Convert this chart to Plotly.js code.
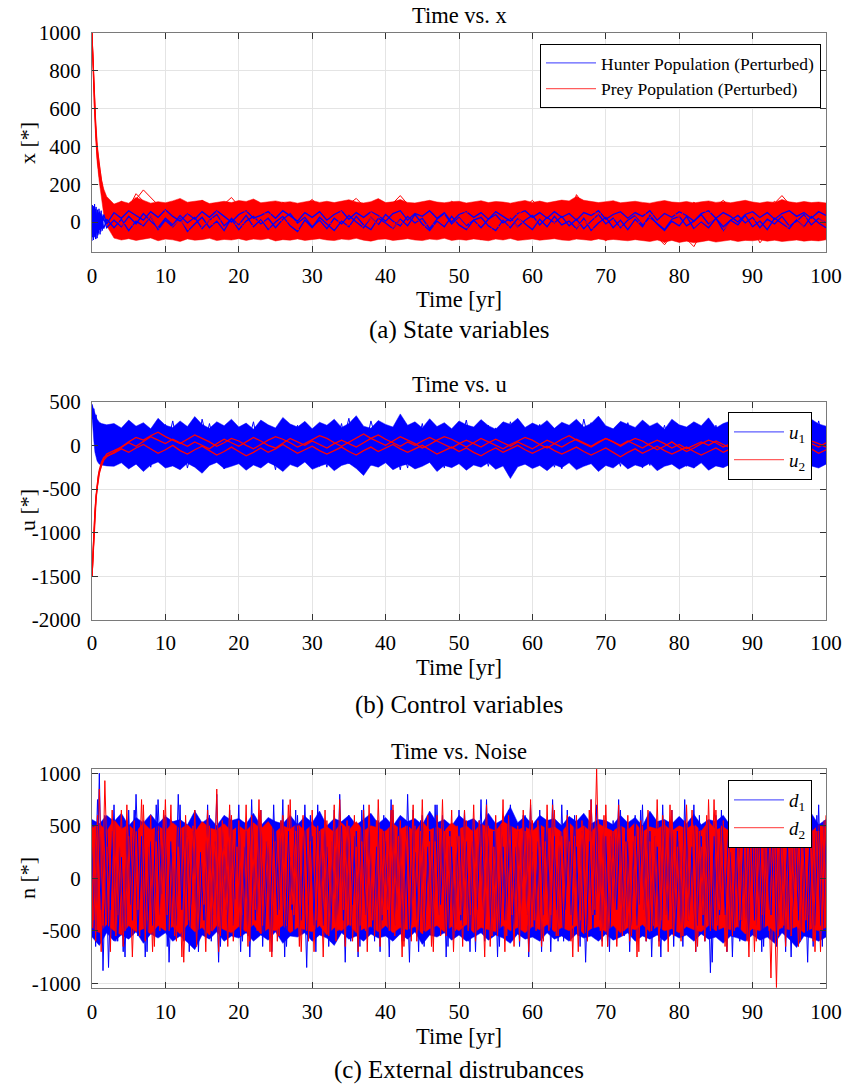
<!DOCTYPE html>
<html><head><meta charset="utf-8">
<script src="https://cdn.plot.ly/plotly-3.0.1.min.js"></script>
<style>html,body{margin:0;padding:0;background:#fff}#chart{width:850px;height:1086px}</style>
</head><body><div id="chart"></div>
<script>
// ---------- time grids ----------
function grid(a, b, s){ var o=[]; for(var i=0;a+i*s<=b+1e-9;i++) o.push(+(a+i*s).toFixed(3)); return o; }
const t1Early = [0,0.15,0.3,0.5,0.7,1,1.3,1.6,2];
const t1 = t1Early.concat(grid(3,100,1));
const tBlob = grid(0,1.5,0.05);
const t2Early = [0,0.1,0.25,0.4,0.55,0.7,0.85,1,1.3,1.6,2];
const t2 = t2Early.concat(grid(3,100,1));
const t3 = grid(0,100,1);
const t3b = grid(0,100,0.5);
const t3r = grid(0.25,99.75,0.5);

// ---------- panel (a): state variables ----------
const preyBandHi = [1000,830,680,540,420,300,225,175,135,
 95,110,100,130,115,100,108,102,112,125, 105,108,115,98,106,110,103,114,109,122,
 102,107,112,104,108,100,106,114,104,110, 103,110,118,106,101,108,124,103,107,119,
 104,101,109,115,106,102,108,110,101,107, 113,103,109,106,100,108,114,104,111,102,
 107,116,112,135,115,109,103,108,113,102, 107,110,104,100,108,114,106,103,109,101,
 107,112,104,108,102,110,115,106,101,108, 104,119,107,102,109,103,106,101];
const preyBandLo = [1000,790,620,450,320,210,120,40,-20,
 -85,-95,-88,-97,-92,-84,-99,-90,-94,-103, -89,-96,-93,-86,-98,-92,-95,-88,-97,-90,
 -94,-87,-100,-93,-96,-89,-97,-92,-88,-95, -98,-90,-94,-86,-96,-101,-92,-89,-97,-93,
 -88,-95,-98,-90,-94,-86,-97,-92,-96,-89, -93,-99,-90,-95,-87,-97,-94,-89,-96,-92,
 -88,-95,-98,-90,-93,-97,-89,-96,-92,-94, -99,-93,-96,-103,-95,-106,-97,-108,-101,-110,
 -104,-97,-106,-100,-95,-103,-97,-99,-94,-101, -96,-103,-98,-95,-101,-97,-100,-94];
const preyA = [1000,800,640,470,340,240,170,120,90,
 60,40,75,150,110,70,30,55,80,45, 20,60,95,40,-10,30,65,20,-20,10, 50,85,40,0,-30,15,55,90,45,10,
 -25,20,60,100,55,15,-20,-50,-10,35, 70,30,-15,-45,-5,40,80,50,10,-30, 5,45,85,50,15,-25,-60,-20,25,60,
 95,55,20,145,90,40,0,-35,10,50, 80,35,-5,-40,-80,-120,-70,-30,-90,-130, -60,-15,30,70,35,-10,-45,-5,40,75,
 110,60,20,-20,15,50,25,-10];
const preyB = [1000,840,690,530,400,300,220,150,100,
 30,-20,10,-40,-10,30,-30,-60,-20,15, -35,-70,-25,10,-40,-75,-30,5,-45,-15, 20,-25,-60,-20,15,-35,-70,-40,0,-50,
 -85,-45,-10,-55,-20,25,-15,-60,-30,10, -40,-75,-35,5,-30,-65,-20,20,-25,-60, -95,-50,-10,-45,-15,25,-20,-55,-90,-40,
 0,-35,-70,-30,10,-25,-60,-100,-50,-15, -55,-20,15,-30,-65,-110,-60,-25,-75,-40, -5,-45,-80,-40,0,-35,-70,-30,-110,-60,
 -20,-55,-15,20,-25,-60,-30,-70];
const preyC = [1000,820,660,500,370,260,180,125,95,
 70,110,80,120,170,130,90,60,100,75, 40,80,115,90,55,95,130,85,50,90, 65,30,70,105,80,45,85,120,75,40,
 80,55,95,125,85,50,20,60,100,140, 95,60,100,70,35,75,110,80,45,90, 60,25,65,100,70,35,80,115,75,40,
 85,50,90,60,100,70,35,75,110,80, 45,90,60,20,65,95,55,25,70,105, 75,40,85,115,80,45,90,65,30,70,
 100,140,95,60,85,50,90,65];
const hunterA = [-20,60,-80,40,-50,30,-10,20,-30,
 10,-25,30,-10,45,5,-30,20,-15,35, -5,25,-35,10,40,-20,15,-40,5,30, -10,20,-30,15,45,-5,25,-25,10,-35,
 20,-10,35,0,-30,25,-15,40,5,-20, 30,-5,20,-35,15,45,-10,25,-20,10, -30,15,40,-5,20,-25,10,35,-15,25,
 -5,30,-20,15,-35,5,40,-10,20,-30, 10,35,-15,25,-5,-40,15,30,-20,5, 40,-10,20,-25,10,35,-5,25,-30,15,
 -10,30,-20,5,40,-15,20,-5];
const hunterB = [40,-60,70,-90,50,-40,25,-35,15,
 -30,15,-45,5,-20,30,-40,10,-25,20, -50,-10,25,-30,5,-45,20,-15,35,-25, 15,-40,0,30,-20,-50,10,-30,25,-10,
 -45,5,-25,30,-15,-40,20,-5,-35,15, -20,40,-10,-45,5,-25,30,-15,-40,10, 25,-20,-45,10,-30,20,-10,-40,15,-25,
 30,-15,5,-35,20,-45,-5,25,-30,10, -40,15,-25,35,-10,-45,5,-20,30,-35, 0,-30,20,-45,10,-15,35,-25,5,-40,
 20,-10,-35,15,-25,30,-5,-30];
const hunterC = [-50,80,-20,70,-60,50,-30,40,-10,
 50,20,60,35,10,55,25,65,30,5, 45,15,55,25,60,30,0,40,60,20, 35,55,20,60,30,5,50,25,55,10,
 40,60,15,50,25,55,35,5,45,60, 10,45,30,60,20,50,0,40,55,25, 50,15,55,30,5,45,60,25,50,20,
 55,25,45,10,50,35,60,15,40,55, 20,50,30,60,10,45,25,55,35,5, 45,60,20,50,30,0,40,55,25,50,
 15,45,60,30,50,20,55,35];
const hunterBlob = [-100,90,-80,70,-95,85,-60,95,-75,60,-90,80,-50,75,-85,65,-70,50,-60,70,-40,55,-65,45,-50,60,-35,40,-45,30,-20];

// ---------- panel (b): control variables ----------
const u1BandHi = [470,440,400,360,330,300,280,265,250,240,235,
 250,200,290,220,260,190,310,230,205,280, 215,330,240,195,270,225,300,210,255,185, 290,235,200,320,245,210,275,190,265,230,
 300,205,250,340,220,195,285,240,210,360, 230,270,200,305,215,260,190,280,235,210, 295,225,185,270,240,310,205,255,220,285,
 195,265,230,300,210,250,335,225,190,275, 240,205,290,220,260,185,300,235,210,270, 225,315,200,250,280,195,265,230,305,215,
 255,190,285,235,210,300,245,220];
const u1BandLo = [350,200,50,-80,-140,-180,-200,-215,-225,-230,-235,
 -240,-200,-270,-215,-300,-225,-190,-260,-235,-280, -205,-250,-320,-230,-195,-265,-240,-210,-285,-225,
 -260,-195,-235,-300,-220,-250,-190,-275,-240,-210, -290,-230,-205,-265,-345,-225,-250,-200,-280,-235,
 -215,-270,-240,-195,-300,-230,-255,-210,-285,-225, -250,-200,-275,-235,-380,-245,-215,-265,-230,-290,
 -220,-255,-200,-280,-240,-210,-300,-230,-260,-195, -270,-225,-250,-205,-290,-240,-215,-275,-230,-260,
 -200,-285,-235,-255,-215,-300,-240,-210,-265,-230, -280,-220,-250,-205,-270,-235,-260,-215];
const u1A = [470,300,420,150,350,50,250,-50,200,-100,150,
 150,-120,250,-200,100,-250,200,-80,280,-150, 120,-220,300,-50,180,-270,90,-180,230,-100, 260,-140,60,-290,170,-60,240,-200,110,-250,
 190,-30,310,-170,80,-230,270,-120,140,-280, 210,-90,250,-190,60,-260,180,-40,290,-150, 100,-240,200,-110,270,-30,130,-210,240,-80,
 170,-270,90,-150,300,-60,220,-190,40,-240, 260,-100,150,-230,80,-170,280,-50,190,-260, 120,-200,230,-70,300,-160,60,-250,170,-110,
 250,-180,90,-260,210,-40,280,-130];
const u1B = [450,380,200,300,0,200,-150,100,-200,50,-180,
 -200,180,-60,220,-250,130,-170,240,-30,190, -260,80,-140,250,-90,200,-230,150,-50,270, -180,110,-280,200,-40,230,-160,90,-240,180,
 -70,250,-210,130,-120,280,-20,170,-190,60, -260,220,-100,140,-230,60,-170,260,-80,190, -40,230,-190,100,-270,160,-60,220,-140,110,
 -250,40,-170,210,-90,260,-200,130,-30,240, -160,80,-260,190,-50,230,-120,170,-240,60, -190,260,-100,140,-30,210,-270,90,-150,230,
 -60,180,-220,120,-90,250,-170,70];
const u2A = [-1500,-1300,-1000,-780,-600,-470,-370,-300,-210,-150,-100,
 -60,-20,40,90,60,110,150,100,60,20, 70,120,80,40,-10,30,80,50,0,-40, 10,60,100,70,30,-20,20,70,110,80,
 30,-10,40,90,130,80,40,0,50,100, 60,20,-30,10,60,100,70,20,-20,30, 80,40,0,-40,10,50,90,60,10,-30,
 20,70,110,60,20,-20,30,80,40,-10, 40,80,50,0,-50,-10,40,-20,-70,-30, 20,60,30,-20,20,70,40,-10,30,80,
 50,0,40,90,60,20,-20,30];
const u2B = [-1500,-1280,-980,-760,-580,-450,-350,-280,-190,-140,-120,
 -90,-40,-80,-30,10,-40,-90,-50,0,-60, -100,-50,-10,-60,-110,-70,-20,-70,-120,-80, -30,-80,-40,10,-40,-90,-50,-10,-60,-100,
 -60,-20,-70,-110,-60,-20,-70,-30,10,-40, -80,-40,0,-50,-100,-60,-20,-70,-30,-80, -120,-70,-30,-80,-40,0,-50,-90,-50,-10,
 -60,-100,-60,-20,-70,-110,-70,-30,-80,-130, -80,-40,-90,-50,-10,-60,-100,-60,-20,-70, -110,-70,-30,-80,-40,-90,-50,-10,-60,-100,
 -60,-20,-70,-30,-80,-40,-90,-50];
const u2C = [-1500,-1320,-1030,-800,-620,-490,-390,-320,-230,-170,-130,
 -80,-20,30,-10,50,100,60,20,70,30, -10,40,0,-40,20,70,30,-10,40,90, 50,0,-30,30,80,40,0,50,10,-30,
 20,60,20,-20,30,80,120,70,30,-10, 40,0,50,90,50,10,-30,20,60,20, -20,30,70,30,-10,40,0,-40,10,60,
 20,-20,30,70,30,-10,40,80,40,0, 50,10,-30,20,60,20,-30,10,-40,0, 40,0,50,10,-30,20,-20,30,70,30,
 -10,40,0,-40,10,50,20,-20];

// ---------- panel (c): external disturbances ----------
const d1BandHi = [560,520,600,540,620,500,580,530,610,520, 590,540,560,510,640,530,580,500,600,550,
 570,520,620,500,580,540,520,600,510,590, 530,640,500,570,540,600,510,560,620,520,
 580,500,600,540,570,510,640,530,560,500, 600,540,570,500,620,520,560,680,530,590,
 510,600,550,570,500,590,540,620,520,560, 550,510,600,530,580,500,640,540,560,520,
 590,520,610,510,560,540,600,500,570,530, 660,520,580,550,600,510,570,530,620,510, 560];
const d1BandLo = [-560,-640,-520,-600,-540,-580,-510,-620,-530,-570, -520,-600,-550,-610,-680,-540,-580,-510,-600,-550,
 -570,-520,-600,-540,-590,-510,-620,-550,-560,-520, -600,-540,-570,-640,-520,-580,-550,-600,-530,-570,
 -550,-600,-530,-580,-510,-630,-540,-560,-520,-590, -540,-600,-560,-520,-590,-540,-570,-620,-530,-580,
 -560,-600,-520,-580,-550,-600,-530,-570,-550,-600, -530,-590,-560,-520,-600,-550,-580,-540,-600,-530,
 -570,-540,-600,-530,-580,-560,-620,-550,-570,-600, -540,-590,-560,-620,-520,-580,-660,-550,-570,-600, -560];
const d2BandHi = [480,520,450,560,470,510,440,530,460,500, 450,530,470,510,440,540,480,460,520,450,
 500,450,530,470,540,440,500,470,520,450, 510,460,490,440,530,460,540,450,500,480,
 450,520,470,500,440,540,460,490,450,530, 470,500,440,520,480,450,540,500,460,490,
 450,510,470,490,440,530,460,500,440,520, 480,450,500,460,530,440,490,470,510,450,
 500,470,520,450,540,460,490,440,510,470, 490,540,460,500,450,520,470,500,440,510, 480];
const d2BandLo = [-470,-520,-440,-500,-540,-450,-510,-480,-530,-450, -500,-460,-530,-440,-510,-470,-540,-450,-490,-520,
 -460,-510,-440,-530,-480,-500,-450,-520,-470,-490, -510,-450,-540,-470,-500,-440,-520,-480,-460,-510,
 -450,-520,-470,-490,-460,-530,-480,-450,-510,-460, -500,-440,-520,-470,-490,-510,-450,-500,-470,-520,
 -460,-490,-440,-510,-470,-500,-450,-530,-480,-460, -510,-450,-520,-470,-490,-440,-510,-460,-500,-480,
 -520,-460,-490,-510,-450,-500,-470,-490,-460,-530, -480,-500,-450,-510,-470,-490,-460,-520,-480,-500, -470];
const d1Line = [300,-650,1000,-880,500,-300,700,-600,200,-750, 650,-400,800,-200,550,-700,350,-500,750,-150,
 600,-800,250,-450,700,-600,400,-250,650,-700, 150,-550,600,-350,800,-650,300,-500,550,-200,
 700,-600,450,-750,250,-400,650,-550,350,-700, 500,-300,750,-650,200,-500,600,-400,700,-250,
 400,-700,550,-450,300,-600,650,-350,500,-800, 600,-250,450,-650,700,-500,250,-600,550,-400,
 350,-750,650,-300,500,-600,800,-450,250,-700, 600,-350,450,-550,700,-250,550,-650,300,-500,
 650,-450,350,-700,550,-300,750,-600,400,-550, 500,-650,300,-400,700,-550,450,-250,600,-750,
 250,-500,650,-350,550,-700,400,-600,700,-300, 550,-450,300,-650,600,-500,750,-350,450,-600,
 400,-700,550,-300,650,-550,350,-450,600,-250, 700,-600,450,-500,300,-750,550,-400,650,-550,
 350,-650,500,-300,700,-450,400,-600,550,-800, 600,-350,450,-700,250,-550,650,-400,500,-600,
 750,-450,300,-650,550,-350,700,-500,400,-700, 600,-300,500,-600,350,-800,550,-450,700,-650, 450];
const d1LineB = [-500,750,-300,600,-850,450,-600,300,-700,550, -250,650,-550,400,-750,300,-450,700,-350,600,
 -650,350,-500,800,-300,550,-700,450,-550,250, -400,700,-600,350,-800,500,-300,650,-450,550,
 -700,300,-550,750,-400,600,-650,350,-500,700, -350,550,-750,450,-300,650,-500,400,-850,600,
 -450,700,-300,550,-650,350,-550,800,-400,500, -600,400,-750,650,-350,550,-500,300,-700,600,
 -300,750,-450,500,-600,350,-800,650,-400,550, -650,300,-500,700,-350,600,-750,450,-550,400,
 -400,650,-600,350,-700,550,-300,750,-500,450, -750,500,-400,650,-550,300,-650,600,-350,700,
 -500,350,-700,550,-450,750,-300,400,-600,650, -350,600,-550,450,-800,350,-500,700,-400,550,
 -650,400,-300,750,-550,500,-700,350,-450,650, -300,550,-750,400,-600,700,-350,500,-650,450,
 -550,750,-400,300,-700,600,-450,550,-900,400, -500,650,-350,500,-750,450,-600,350,-550,700,
 -400,550,-700,800,-300,600,-650,450,-500,350, -750,500,-400,650,-550,300,-650,600,-450,550];
const d2Line = [-400,600,-700,930,-300,650,-550,400,-650,700, -450,550,-300,750,-600,450,-700,350,-500,650,
 -350,700,-550,300,-750,600,-400,500,-650,450, -250,650,-500,400,-700,550,-350,700,-600,300,
 -550,450,-650,600,-300,750,-450,500,-700,350, -600,550,-400,700,-250,450,-650,600,-500,350,
 -700,500,-350,650,-550,400,-600,750,-300,550, -450,600,-700,350,-500,700,-400,550,-650,450,
 -300,650,-550,400,-750,500,-350,700,-600,450, -500,600,-650,350,-450,750,-550,400,-700,500,
 -350,650,-500,450,-600,550,-400,700,-650,300, -550,500,-700,600,-350,450,-600,650,-450,750,
 -400,550,-650,350,-500,700,-550,450,-300,600, -600,400,-700,550,-450,650,-350,1040,-500,600,
 -650,450,-400,700,-550,350,-600,500,-750,550, -350,650,-500,400,-650,600,-450,700,-550,300,
 -600,550,-400,650,-700,450,-350,600,-500,750, -450,500,-650,350,-550,700,-400,600,-600,450,
 -700,550,-350,650,-500,400,-1040,600,-450,700, -550,350,-650,500,-400,750,-600,450,-700,550];
const d2LineB = [500,-600,850,-450,300,-700,550,-350,650,-500, 400,-750,300,-550,700,-400,600,-650,450,-300,
 750,-500,350,-600,550,-800,400,-450,650,-350, 300,-700,500,-400,850,-550,350,-650,600,-450,
 550,-350,700,-600,400,-500,650,-300,450,-750, 350,-550,600,-450,750,-350,500,-700,300,-600,
 650,-400,450,-750,550,-300,700,-500,350,-650, 500,-600,300,-450,650,-700,400,-550,750,-350,
 450,-500,700,-350,550,-650,300,-600,500,-400, 750,-450,350,-700,600,-550,450,-300,650,-500,
 400,-650,550,-350,700,-450,300,-750,500,-550, 600,-400,750,-550,350,-650,500,-300,450,-700,
 550,-500,300,-600,700,-350,650,-550,400,-450, 350,-750,600,-400,500,-600,750,-300,550,-650,
 700,-350,450,-650,300,-500,600,-550,400,-700, 500,-600,350,-450,750,-400,550,-700,650,-300,
 400,-550,700,-350,500,-650,300,-600,750,-450, 650,-300,550,-700,400,-500,600,-400,350,-750,
 550,-600,750,-350,450,-950,500,-550,300,-650, 700,-450,400,-600,650,-350,550,-700,450,-500, 600];

// ---------- tick labels & legend names ----------
const xTicks = [0,10,20,30,40,50,60,70,80,90,100];
const y1Ticks = [0,200,400,600,800,1000];
const y2Ticks = [-2000,-1500,-1000,-500,0,500];
const y2Text = ['-2000','-1500','-1000','-500','0','500'];
const y3Ticks = [-1000,-500,0,500,1000];
const y3Text = ['-1000','-500','0','500','1000'];
const names1 = ['Hunter Population (Perturbed)','Prey Population (Perturbed)'];
const names2 = ['<i>u</i><sub>1</sub>','<i>u</i><sub>2</sub>'];
const names3 = ['<i>d</i><sub>1</sub>','<i>d</i><sub>2</sub>'];

const BLUE = '#0000ff', RED = '#ff0000';
const LBLUE = 'rgba(40,40,255,0.75)', LRED = 'rgba(255,40,40,0.75)';
const FONT = 'Liberation Serif, Times New Roman, serif';

function band(x, lo, hi, color, xa, ya){
  return [
    {type:'scatter', mode:'lines', x:x, y:lo, xaxis:xa, yaxis:ya, line:{width:0.5,color:color}, showlegend:false, hoverinfo:'skip'},
    {type:'scatter', mode:'lines', x:x, y:hi, xaxis:xa, yaxis:ya, line:{width:0.5,color:color}, fill:'tonexty', fillcolor:color, showlegend:false, hoverinfo:'skip'}
  ];
}
function line(x, y, color, xa, ya, w){
  return {type:'scatter', mode:'lines', x:x, y:y, xaxis:xa, yaxis:ya, line:{width:w||1,color:color}, showlegend:false, hoverinfo:'skip'};
}
function key(name, color, xa, ya, lg, rank){
  return {type:'scatter', mode:'lines', x:[null], y:[null], xaxis:xa, yaxis:ya, line:{width:1.2,color:color},
    name:name, showlegend:true, legend:lg, legendrank:rank, hoverinfo:'skip'};
}

const data = [].concat(
  [key(names1[0], LBLUE, 'x','y','legend',1), key(names1[1], LRED, 'x','y','legend',2),
   key(names2[0], LBLUE, 'x2','y2','legend2',1), key(names2[1], LRED, 'x2','y2','legend2',2),
   key(names3[0], LBLUE, 'x3','y3','legend3',1), key(names3[1], LRED, 'x3','y3','legend3',2)],
  band(t1, preyBandLo, preyBandHi, RED, 'x', 'y'),
  [line(tBlob, hunterBlob, BLUE, 'x', 'y'),
   line(t1, hunterA, BLUE, 'x', 'y', 1.3),
   line(t1, preyA, RED, 'x', 'y'),
   line(t1, hunterB, BLUE, 'x', 'y', 1.3),
   line(t1, preyB, RED, 'x', 'y'),
   line(t1, hunterC, BLUE, 'x', 'y', 1.3),
   line(t1, preyC, RED, 'x', 'y')],
  band(t2, u1BandLo, u1BandHi, BLUE, 'x2', 'y2'),
  [line(t2, u1A, BLUE, 'x2', 'y2'),
   line(t2, u1B, BLUE, 'x2', 'y2'),
   line(t2, u2A, RED, 'x2', 'y2', 1.3),
   line(t2, u2B, RED, 'x2', 'y2', 1.3),
   line(t2, u2C, RED, 'x2', 'y2', 1.3)],
  band(t3, d1BandLo, d1BandHi, BLUE, 'x3', 'y3'),
  band(t3, d2BandLo, d2BandHi, RED, 'x3', 'y3'),
  [line(t3b, d1Line, BLUE, 'x3', 'y3'),
   line(t3b, d2LineB, RED, 'x3', 'y3'),
   line(t3r, d1LineB, BLUE, 'x3', 'y3'),
   line(t3r, d2Line, RED, 'x3', 'y3')]
);

const H = 1086, L = 92, W = 734;
function py(p){ return 1 - p/H; }
function px(p){ return (p - L)/W; }

function xax(anchor){
  return {domain:[0,1], anchor:anchor, range:[0,100], tickvals:xTicks, ticks:'inside', ticklen:6, tickcolor:'#333',
    showline:true, linecolor:'#7a7a7a', linewidth:1, mirror:'ticks', showgrid:true, gridcolor:'#e4e4e4', zeroline:false,
    tickfont:{family:FONT, size:21, color:'#000'}, ticklabelstandoff:4};
}
function yax(anchor, dom, range, tv, tt){
  return {domain:dom, anchor:anchor, range:range, tickvals:tv, ticktext:tt, ticks:'inside', ticklen:6, tickcolor:'#333',
    showline:true, linecolor:'#7a7a7a', linewidth:1, mirror:'ticks', showgrid:true, gridcolor:'#e4e4e4', zeroline:false,
    tickfont:{family:FONT, size:21, color:'#000'}, ticklabelstandoff:6};
}
function ann(text, xp, ypx, size, angle){
  return {text:text, xref:'paper', yref:'paper', x:xp, y:py(ypx), xanchor:'center', yanchor:'middle', showarrow:false,
    textangle:angle||0, font:{family:FONT, size:size, color:'#000'}};
}
function leg(right, top, size, iw){
  return {x:px(right), y:py(top), xanchor:'right', yanchor:'top', bgcolor:'#fff', bordercolor:'#000', borderwidth:1,
    font:{family:FONT, size:size, color:'#000'}, tracegroupgap:0, traceorder:'normal', itemwidth:iw};
}
const cx = px(459);

const layout = {
  width:850, height:1086, paper_bgcolor:'#fff', plot_bgcolor:'#fff',
  margin:{l:L, r:24, t:0, b:0},
  xaxis: xax('y'), yaxis: yax('x', [py(252.3), py(33)], [-160,1000], y1Ticks, y1Ticks.map(String)),
  xaxis2: xax('y2'), yaxis2: yax('x2', [py(620), py(401.7)], [-2000,500], y2Ticks, y2Text),
  xaxis3: xax('y3'), yaxis3: yax('x3', [py(988.3), py(769)], [-1048,1041], y3Ticks, y3Text),
  legend: leg(821, 44, 17.5, 50),
  legend2: leg(812, 412, 19, 50),
  legend3: leg(812, 780, 19, 50),
  annotations: [
    ann('Time vs. x', cx, 16, 22.5),
    ann('Time vs. u', cx, 384, 22.5),
    ann('Time vs. Noise', cx, 751, 22.5),
    ann('Time [yr]', cx, 299, 22.5),
    ann('Time [yr]', cx, 667, 22.5),
    ann('Time [yr]', cx, 1036, 22.5),
    ann('(a) State variables', cx, 330, 25),
    ann('(b) Control variables', cx, 705, 25),
    ann('(c) External distrubances', cx, 1070, 25),
    ann('x [*]', px(27), 143, 22, -90),
    ann('u [*]', px(27), 510, 22, -90),
    ann('n [*]', px(27), 878, 22, -90)
  ]
};

Plotly.newPlot('chart', data, layout, {displayModeBar:false, staticPlot:true});
</script>
</body></html>
